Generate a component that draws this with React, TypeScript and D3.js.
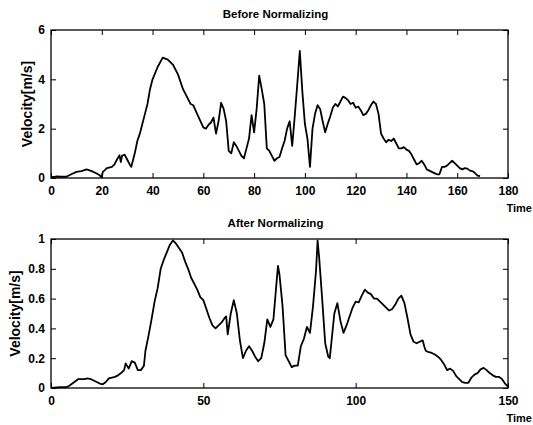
import React, { useEffect, useRef } from "react";
import * as d3 from "d3";

// velocity before normalizing (time, m/s)
const beforeTime = [
  0, 2, 4, 6, 8, 10, 12, 14, 16, 18, 19, 20, 20.4, 21, 22, 24, 25, 26, 27, 27.5, 28, 29, 30, 31, 31.6,
  33, 34, 35, 36, 37, 38, 39, 40, 42, 44, 46, 48, 50, 52, 54, 55, 56, 58, 60, 61, 62, 63, 64, 65,
  66, 67, 68, 69, 70, 71, 72, 73, 74, 75, 76, 77, 78, 79, 80, 81, 82, 83, 84, 85, 86, 87, 88, 89,
  90, 91, 92, 93, 94, 95, 96, 97, 98, 99, 100, 101, 102, 103, 104, 105, 106, 107, 108, 109, 110,
  111, 112, 113, 114, 115, 116, 117, 118, 119, 120, 121, 122, 123, 124, 125, 126, 127, 128, 129,
  130, 131, 132, 133, 134, 135, 136, 137, 138, 139, 140, 141, 142, 143, 144, 145, 146, 147, 148,
  149, 150, 151, 152, 153, 154, 155, 156, 157, 158, 159, 160, 161, 162, 163, 164, 165, 166, 167,
  168, 169,
];
const beforeVelocity = [
  0.03, 0.06, 0.05, 0.05, 0.15, 0.25, 0.28, 0.35, 0.28, 0.18, 0.12, 0.03, 0.25, 0.3, 0.4, 0.45,
  0.55, 0.75, 0.92, 0.65, 0.9, 0.95, 0.75, 0.55, 0.45, 1.0, 1.5, 1.8, 2.2, 2.6, 3.0, 3.6, 4.0,
  4.5, 4.88, 4.8, 4.6, 4.2, 3.6, 3.2, 3.0, 2.95, 2.5, 2.05, 2.0, 2.15, 2.25, 2.45, 1.8, 2.3,
  3.05, 2.8, 2.3, 1.1, 1.0, 1.45, 1.3, 1.1, 0.9, 0.8, 1.2, 1.6, 2.55, 1.85, 2.8, 4.15, 3.6, 3.0,
  1.2, 1.1, 0.9, 0.7, 0.8, 0.85, 1.2, 1.5, 2.0, 2.3, 1.3, 2.5, 3.8, 5.15, 3.5, 2.2, 1.6, 0.45,
  2.0, 2.6, 2.95, 2.8, 2.3, 1.85, 2.2, 2.5, 2.85, 3.0, 2.9, 3.1, 3.3, 3.25, 3.15, 3.0, 3.05,
  2.85, 2.9, 2.75, 2.55, 2.6, 2.75, 2.95, 3.1, 3.0, 2.6, 1.8, 1.6, 1.45, 1.55, 1.5, 1.6, 1.4,
  1.2, 1.2, 1.25, 1.15, 1.1, 0.95, 0.75, 0.55, 0.6, 0.7, 0.55, 0.35, 0.3, 0.25, 0.2, 0.15, 0.15,
  0.45, 0.45, 0.5, 0.6, 0.7, 0.6, 0.5, 0.4, 0.35, 0.4, 0.38, 0.3, 0.28, 0.2, 0.1, 0.08,
];

// velocity after normalizing (time, ratio of peak)
const afterTime = [
  0, 3, 5, 6, 7, 8, 9, 10, 11, 12, 13, 14, 15, 16, 17, 18, 19, 20, 21, 22, 23, 24, 24.5, 25.5,
  26.5, 27.5, 28.5, 29.5, 30.5, 31, 32, 33, 34, 35, 36, 37, 38, 39, 40, 41, 42, 43, 44, 45, 46,
  47, 48, 49, 50, 51, 52, 53, 54, 55, 56, 57, 57.5, 58, 59, 60, 61, 62, 63, 64, 65, 66, 67, 68,
  69, 70, 71, 72, 73, 74, 74.5, 75, 76, 77, 78, 79, 80, 81, 82, 83, 84, 85, 86, 87, 87.5, 88, 89,
  90, 91, 91.5, 92, 93, 94, 95, 96, 97, 98, 99, 100, 101, 102, 103, 104, 105, 106, 107, 108, 109,
  110, 111, 112, 113, 114, 115, 116, 117, 118, 119, 120, 121, 122, 122.5, 123, 124, 125, 126,
  127, 128, 129, 130, 131, 132, 133, 134, 135, 136, 137, 138, 139, 140, 141, 142, 143, 144, 145,
  146, 147, 148, 149, 150,
];
const afterVelocity = [
  0.0, 0.005, 0.005, 0.015, 0.03, 0.045, 0.06, 0.06, 0.06, 0.065, 0.06, 0.05, 0.04, 0.03, 0.025,
  0.04, 0.065, 0.07, 0.075, 0.085, 0.1, 0.12, 0.165, 0.13, 0.18, 0.17, 0.12, 0.12, 0.15, 0.25,
  0.35, 0.46, 0.58, 0.67, 0.8, 0.86, 0.91, 0.96, 0.99, 0.97, 0.94, 0.91, 0.85, 0.8, 0.74, 0.7,
  0.66, 0.61, 0.59, 0.53, 0.47, 0.42, 0.4, 0.42, 0.44, 0.47, 0.48, 0.36, 0.5, 0.59, 0.5, 0.32,
  0.2, 0.25, 0.28, 0.25, 0.21, 0.18, 0.2, 0.3, 0.46, 0.41, 0.46, 0.7, 0.82, 0.76, 0.55, 0.22,
  0.18, 0.14, 0.15, 0.15, 0.28, 0.33, 0.41, 0.37, 0.55, 0.79, 0.99, 0.88, 0.6, 0.3, 0.21, 0.2,
  0.3, 0.5, 0.57, 0.45, 0.37, 0.42, 0.48, 0.54, 0.58, 0.575, 0.62, 0.66, 0.64, 0.63, 0.6, 0.6,
  0.58, 0.56, 0.54, 0.52, 0.53, 0.56, 0.6, 0.62, 0.57, 0.47, 0.36, 0.31, 0.3, 0.31, 0.32, 0.28,
  0.25, 0.24, 0.235, 0.225, 0.21, 0.19, 0.16, 0.12, 0.13, 0.115, 0.08, 0.06, 0.04, 0.035, 0.035,
  0.07, 0.09, 0.1, 0.125, 0.135, 0.12, 0.1, 0.085, 0.075, 0.075, 0.06, 0.03, 0.01,
];

const beforeXTicks = [0, 20, 40, 60, 80, 100, 120, 140, 160, 180];
const beforeYTicks = [0, 2, 4, 6];
const afterXTicks = [0, 50, 100, 150];
const afterYTicks = [0, 0.2, 0.4, 0.6, 0.8, 1];

const FONT = "'Liberation Sans', Arial, Helvetica, sans-serif";

const drawPanel = (svg, opt) => {
  const { left, top, width, height, xs, ys, xMax, yMax, xTicks, yTicks, title, yLabelX } = opt;
  const x = d3.scaleLinear().domain([0, xMax]).range([left, left + width]);
  const y = d3.scaleLinear().domain([0, yMax]).range([top + height, top]);
  const g = svg.append("g");

  const styleAxis = (a) => {
    a.select(".domain").remove();
    a.selectAll("line").attr("stroke", "#000").attr("stroke-width", 1);
    a.selectAll("text")
      .attr("fill", "#000")
      .style("font-family", FONT)
      .style("font-size", "12px")
      .style("font-weight", "bold");
  };

  g.append("g")
    .attr("transform", `translate(0,${top + height})`)
    .call(d3.axisBottom(x).tickValues(xTicks).tickSizeInner(-5).tickSizeOuter(0).tickPadding(8).tickFormat(d3.format("")))
    .call(styleAxis);
  g.append("g")
    .attr("transform", `translate(0,${top})`)
    .call(d3.axisTop(x).tickValues(xTicks).tickSizeInner(-5).tickSizeOuter(0).tickFormat(() => ""))
    .call(styleAxis);
  g.append("g")
    .attr("transform", `translate(${left},0)`)
    .call(d3.axisLeft(y).tickValues(yTicks).tickSizeInner(-5).tickSizeOuter(0).tickPadding(6).tickFormat(d3.format("")))
    .call(styleAxis);
  g.append("g")
    .attr("transform", `translate(${left + width},0)`)
    .call(d3.axisRight(y).tickValues(yTicks).tickSizeInner(-5).tickSizeOuter(0).tickFormat(() => ""))
    .call(styleAxis);

  g.append("rect")
    .attr("x", left)
    .attr("y", top)
    .attr("width", width)
    .attr("height", height)
    .attr("fill", "none")
    .attr("stroke", "#000")
    .attr("stroke-width", 1.3);

  const line = d3.line()
    .x((d, i) => x(xs[i]))
    .y((d) => y(d));

  g.append("path")
    .datum(ys)
    .attr("fill", "none")
    .attr("stroke", "#000")
    .attr("stroke-width", 1.8)
    .attr("stroke-linejoin", "round")
    .attr("d", line);

  g.append("text")
    .attr("x", left + width / 2 - 4)
    .attr("y", top - 12)
    .attr("text-anchor", "middle")
    .style("font-family", FONT)
    .style("font-size", "11.5px")
    .style("font-weight", "bold")
    .text(title);

  g.append("text")
    .attr("transform", `translate(${yLabelX},${top + height / 2}) rotate(-90)`)
    .attr("text-anchor", "middle")
    .style("font-family", FONT)
    .style("font-size", "14px")
    .style("font-weight", "bold")
    .text("Velocity[m/s]");

  g.append("text")
    .attr("x", 532)
    .attr("y", top + height + 34)
    .attr("text-anchor", "end")
    .style("font-family", FONT)
    .style("font-size", "11px")
    .style("font-weight", "bold")
    .text("Time");
};

export default function App() {
  const svgRef = useRef(null);

  useEffect(() => {
    const svg = d3.select(svgRef.current);
    svg.selectAll("*").remove();
    svg.append("rect").attr("width", 533).attr("height", 425).attr("fill", "#fff");

    drawPanel(svg, {
      left: 51, top: 30, width: 457, height: 148,
      xs: beforeTime, ys: beforeVelocity, xMax: 180, yMax: 6,
      xTicks: beforeXTicks, yTicks: beforeYTicks,
      title: "Before Normalizing", yLabelX: 32,
    });
    drawPanel(svg, {
      left: 51, top: 239, width: 457, height: 149,
      xs: afterTime, ys: afterVelocity, xMax: 150, yMax: 1,
      xTicks: afterXTicks, yTicks: afterYTicks,
      title: "After Normalizing", yLabelX: 20,
    });
  }, []);

  return (
    <svg
      ref={svgRef}
      width={533}
      height={425}
      style={{ position: "absolute", left: 0, top: 0, display: "block" }}
    />
  );
}
